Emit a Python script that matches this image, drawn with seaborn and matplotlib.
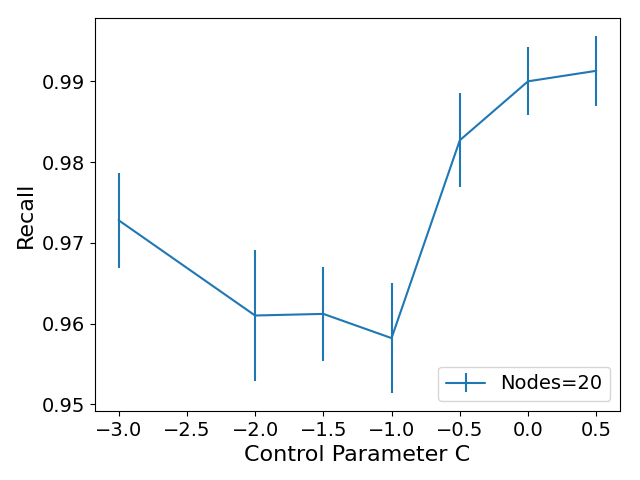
import numpy as np
import seaborn as sns
import matplotlib
matplotlib.use("Agg")
import matplotlib.pyplot as plt

# recall vs control parameter C
c_values = [-3.0, -2.0, -1.5, -1.0, -0.5, 0.0, 0.5]
recall_mean = [0.9728, 0.9610, 0.9612, 0.9582, 0.9827, 0.9900, 0.9913]
recall_err = [0.0059, 0.0081, 0.0058, 0.0068, 0.0058, 0.0042, 0.0043]

sns.set_style("white")
plt.rcParams['font.family'] = ['DejaVu Sans']
plt.rcParams.update({'text.color': 'black', 'axes.labelcolor': 'black',
                     'xtick.color': 'black', 'ytick.color': 'black'})

fig, ax = plt.subplots(figsize=(6.4, 4.8), dpi=100)
ax.errorbar(c_values, recall_mean, yerr=recall_err, color=sns.color_palette()[0],
            label='Nodes=20')

for side in ['top', 'right', 'left', 'bottom']:
    ax.spines[side].set_visible(True)
    ax.spines[side].set_color('black')
ax.tick_params(axis='both', which='both', labelsize=14, direction='out',
               length=3.5, width=0.8, left=True, bottom=True, color='black')
ax.set_yticks([0.95, 0.96, 0.97, 0.98, 0.99])
ax.set_xlabel('Control Parameter C', fontsize=16)
ax.set_ylabel('Recall', fontsize=16)
ax.legend(loc='lower right', fontsize=14)

fig.subplots_adjust(left=0.148, right=0.969, top=0.962, bottom=0.144)
plt.savefig('out.png', dpi=100)
